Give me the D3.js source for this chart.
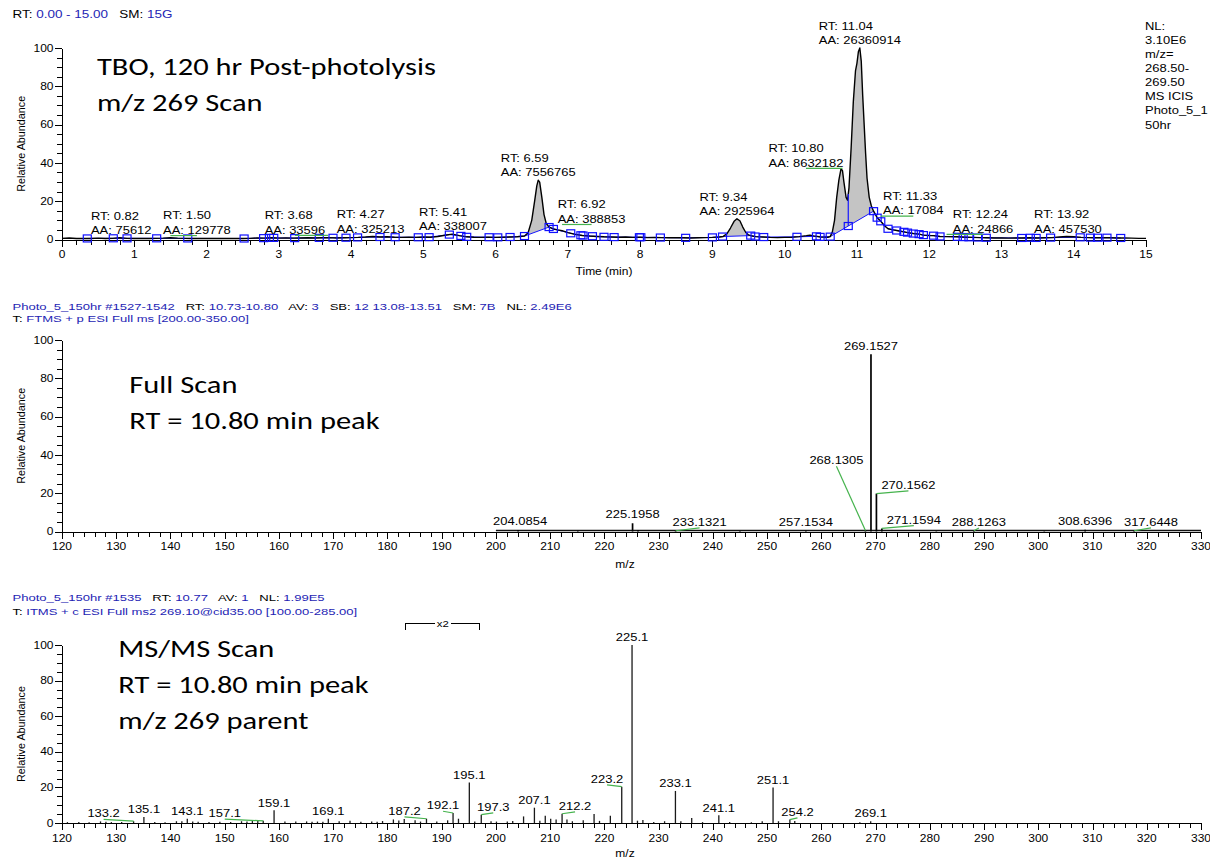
<!DOCTYPE html>
<html>
<head>
<meta charset="utf-8">
<script src="https://cdn.jsdelivr.net/npm/d3@7"></script>
<style>
  html, body { margin: 0; padding: 0; background: #fff; }
  svg { display: block; }
</style>
</head>
<body>
<svg id="chart" width="1210" height="858"></svg>
<script>
// ---------------- Chromatogram, m/z 268.50-269.50 (time in min, relative abundance %) ----------------
const chromTrace = [
  [0.00,0.6],[0.10,0.8],[0.20,0.5],[0.30,0.6],[0.40,0.5],[0.50,0.7],[0.60,0.5],[0.70,0.6],[0.80,0.9],[0.90,0.6],
  [1.00,0.5],[1.10,0.6],[1.20,0.5],[1.30,0.6],[1.40,0.7],[1.50,0.9],[1.60,0.7],[1.70,0.6],[1.80,0.5],[1.90,0.6],
  [2.00,0.5],[2.10,0.6],[2.20,0.5],[2.30,0.5],[2.40,0.6],[2.50,0.5],[2.60,0.6],[2.70,0.8],[2.80,0.7],[2.90,0.9],
  [3.00,0.7],[3.10,0.8],[3.20,0.7],[3.30,0.8],[3.40,0.9],[3.50,0.8],[3.60,0.9],[3.70,1.0],[3.80,0.8],[3.90,0.9],
  [4.00,1.0],[4.10,1.1],[4.20,1.3],[4.30,1.6],[4.40,1.3],[4.50,1.4],[4.60,1.2],[4.70,1.1],[4.80,1.2],[4.90,1.1],
  [5.00,1.3],[5.10,1.2],[5.20,1.6],[5.30,2.2],[5.40,2.8],[5.50,2.0],[5.60,1.4],[5.70,1.2],[5.80,1.1],[5.90,1.2],
  [6.00,1.1],[6.10,1.2],[6.20,1.3],[6.30,1.4],[6.40,1.8],[6.45,3.5],[6.50,10],[6.54,20],[6.57,28],[6.59,31],
  [6.61,30],[6.64,22],[6.67,13],[6.70,8.5],[6.74,6.5],[6.80,5.5],[6.86,5.0],[6.92,4.6],[7.00,3.6],[7.10,2.7],
  [7.20,2.1],[7.30,1.8],[7.40,1.6],[7.50,1.4],[7.60,1.3],[7.70,1.2],[7.80,1.3],[7.90,1.1],[8.00,1.2],[8.10,1.0],
  [8.20,1.1],[8.30,1.0],[8.40,0.9],[8.50,1.0],[8.60,0.9],[8.70,0.8],[8.80,0.9],[8.90,1.0],[9.00,1.1],[9.10,1.3],
  [9.15,1.6],[9.20,3.0],[9.25,6.0],[9.30,9.5],[9.34,10.8],[9.38,9.8],[9.42,6.5],[9.46,3.8],[9.50,2.4],[9.55,1.8],
  [9.60,1.5],[9.70,1.3],[9.80,1.1],[9.90,1.0],[10.00,1.1],[10.10,1.2],[10.20,1.5],[10.30,2.0],[10.35,2.3],[10.40,1.9],
  [10.50,1.3],[10.60,1.2],[10.63,1.5],[10.66,4],[10.69,10],[10.72,22],[10.75,31],[10.78,37],[10.80,36],[10.82,30],
  [10.85,22],[10.87,20.5],[10.89,27],[10.92,48],[10.95,72],[10.98,88],[11.00,92],[11.02,98],[11.04,100],[11.06,93],
  [11.08,75],[11.10,60],[11.12,45],[11.14,32],[11.17,22],[11.20,17.5],[11.23,14.8],[11.28,11.4],[11.33,9.5],[11.38,7.2],
  [11.43,5.6],[11.50,5.0],[11.55,4.7],[11.65,4.0],[11.70,3.6],[11.78,3.1],[11.86,2.8],[11.92,2.3],[12.00,2.1],[12.06,2.0],
  [12.15,1.6],[12.25,1.5],[12.39,1.4],[12.50,1.2],[12.60,1.1],[12.70,1.0],[12.80,0.9],[12.90,0.8],[13.00,0.8],[13.10,0.7],
  [13.20,0.8],[13.30,0.8],[13.40,0.9],[13.50,0.8],[13.60,0.9],[13.70,1.0],[13.80,1.3],[13.90,1.6],[14.00,1.4],[14.10,1.1],
  [14.20,1.0],[14.30,0.9],[14.40,1.0],[14.50,0.9],[14.60,0.8],[14.70,0.8],[14.80,0.7],[14.90,0.6],[15.00,0.6]
];

// integrated peaks: retention time and area
const peakRT   = [0.82, 1.50, 3.68, 4.27, 5.41, 6.59, 6.92, 9.34, 10.80, 11.04, 11.33, 12.24, 13.92];
const peakArea = [75612, 129778, 33596, 325213, 338007, 7556765, 388853, 2925964, 8632182, 26360914, 17084, 24866, 457530];

// peak start / end markers found by the integrator
const boundaryTimes = [0.35,0.71,0.90,1.31,1.74,2.52,2.79,2.87,2.93,3.22,3.56,3.75,3.93,4.09,4.40,4.61,4.93,5.08,
  5.36,5.52,5.60,5.91,6.03,6.20,6.40,6.74,6.80,7.04,7.18,7.21,7.34,7.50,7.64,7.99,8.01,8.28,8.63,9.00,9.14,9.53,
  9.59,9.71,10.17,10.44,10.49,10.63,10.88,11.23,11.28,11.33,11.43,11.55,11.65,11.70,11.78,11.86,11.92,12.06,12.15,
  12.39,12.47,12.55,12.67,12.79,13.28,13.40,13.48,13.68,14.09,14.23,14.33,14.46,14.65];
const dropTimes = [10.88];                       // valley split between 10.80 and 11.04
const shadedRanges = [[6.40, 6.74], [9.14, 9.53], [10.63, 11.23]];

const chromInfo = ["NL:", "3.10E6", "m/z=", "268.50-", "269.50", "MS  ICIS", "Photo_5_1", "50hr"];

// ---------------- Full scan spectrum, RT 10.73-10.80 ----------------
const fullMz    = [204.0854, 215.1, 225.1958, 226.199, 233.1321, 245.0, 257.1534, 268.1305, 269.1527, 270.1562, 271.1594, 281.2, 288.1263, 301.1, 308.6396, 317.6448];
const fullAbund = [0.8,      0.3,   4.3,      0.7,     0.4,      0.2,   0.4,      0.5,      92.5,     19.8,     1.6,      0.2,   0.4,      0.2,   0.9,      0.4];
const fullLabels = ["204.0854","225.1958","233.1321","257.1534","268.1305","269.1527","270.1562","271.1594","288.1263","308.6396","317.6448"];
const fullScanRange = [200, 350];

// ---------------- MS2 spectrum of m/z 269.10 ----------------
const ms2Mz = [121.0,123.1,125.0,127.1,128.1,129.1,131.0,133.2,135.1,137.1,139.0,141.1,142.1,143.1,144.1,145.1,147.1,149.1,
  151.1,153.1,154.1,155.1,156.1,157.1,159.1,161.1,163.1,165.1,166.1,167.1,168.1,169.1,171.1,173.1,175.1,177.1,178.1,179.1,
  181.1,182.1,183.1,185.1,186.1,187.2,189.1,191.1,192.1,193.1,195.1,196.1,197.3,199.1,200.1,202.1,203.1,205.1,207.1,208.1,
  209.1,210.1,211.1,212.2,213.1,214.1,216.1,218.1,219.1,221.1,223.2,225.1,226.1,227.1,229.1,231.1,233.1,234.1,236.1,238.1,
  241.1,243.1,247.1,249.1,251.1,252.1,254.2,255.1,267.1,269.1];
const ms2Abund = [0.5,0.6,0.4,0.9,0.7,0.5,0.6,1.0,3.4,0.6,0.4,1.0,1.0,2.4,0.9,0.7,0.6,0.7,
  0.6,1.0,0.8,1.1,1.1,1.2,7.1,0.9,0.8,0.9,0.7,0.8,0.7,2.4,1.0,1.2,0.7,0.8,0.7,1.1,
  2.0,1.4,2.2,1.6,0.8,2.4,0.9,1.5,5.6,2.4,22.8,0.9,4.7,1.0,0.8,0.9,1.1,3.7,8.6,1.2,
  4.1,2.4,2.0,5.2,1.9,1.0,1.6,5.0,1.2,4.1,20.4,100,1.3,1.7,0.6,1.0,18.0,1.0,2.8,0.5,
  4.3,0.5,0.4,1.0,20.0,1.0,1.9,1.1,0.4,1.0];
const ms2Labels = ["133.2","135.1","143.1","157.1","159.1","169.1","187.2","192.1","195.1","197.3","207.1","212.2",
  "223.2","225.1","233.1","241.1","251.1","254.2","269.1"];
const ms2Magnified = [183.4, 197.0];

// ---------------- Header lines: [text, isValue] ----------------
const hdrChrom = [["RT: ",0],["0.00 - 15.00",1],["   SM: ",0],["15G",1]];
const hdrFull1 = [["Photo_5_150hr #1527-1542",1],["   RT: ",0],["10.73-10.80",1],["   AV: ",0],["3",1],
  ["   SB: ",0],["12 13.08-13.51",1],["   SM: ",0],["7B",1],["   NL: ",0],["2.49E6",1]];
const hdrFull2 = [["T: ",0],["FTMS + p ESI Full ms [200.00-350.00]",1]];
const hdrMs2a = [["Photo_5_150hr #1535",1],["   RT: ",0],["10.77",1],["   AV: ",0],["1",1],["   NL: ",0],["1.99E5",1]];
const hdrMs2b = [["T: ",0],["ITMS + c ESI Full ms2 269.10@cid35.00 [100.00-285.00]",1]];

const titleChrom = ["TBO, 120 hr Post-photolysis", "m/z 269 Scan"];
const titleFull  = ["Full Scan", "RT = 10.80 min peak"];
const titleMs2   = ["MS/MS Scan", "RT = 10.80 min peak", "m/z 269 parent"];

// ---------------- Label placement (pixel nudges for crowded annotations) ----------------
const chromLabelNudge = { "1.50": [26.5, 0], "3.68": [-33, 0], "6.92": [29.5, -4], "10.80": [-36.5, 0], "11.33": [32.5, -3], "12.24": [36.5, 0] };
const fullLabelNudge  = { "204.0854": [2, 0], "233.1321": [24, 0], "268.1305": [-29, -61.5], "270.1562": [32, 0], "271.1594": [32, 0], "288.1263": [5, 0], "317.6448": [17, 0] };
const ms2LabelNudge   = { "133.2": [-30, 0], "157.1": [-38.5, 0], "187.2": [-22, 0], "192.1": [-10, 0], "197.3": [12, 0], "212.2": [13, 0], "223.2": [-14.7, 0], "254.2": [7.6, 0] };

// =====================================================================
const svg = d3.select("#chart");
const FONT = '"Liberation Sans", Arial, Helvetica, sans-serif';
const TITLE_FONT = 'Carlito, Calibri, Lato, sans-serif';
const VALUE_BLUE = "#2424b4";
const LEADER = "#45b34d";
const WIDE = 1.26;      // the instrument software renders its text broad

function txt(g, x, y, s, o = {}) {
  return g.append("text")
    .attr("transform", `translate(${x},${y}) scale(${o.sx ?? WIDE},1)`)
    .attr("font-family", o.family ?? FONT)
    .attr("font-size", o.size ?? 10.3)
    .attr("text-anchor", o.anchor ?? "start")
    .attr("fill", o.fill ?? "#000")
    .text(s);
}

function headerLine(x, y, segs, size = 9.6, sx = 1.36) {
  const t = svg.append("text")
    .attr("transform", `translate(${x},${y}) scale(${sx},1)`)
    .attr("font-family", FONT).attr("font-size", size)
    .style("white-space", "pre");
  segs.forEach(([s, v]) => t.append("tspan").attr("fill", v ? VALUE_BLUE : "#000").text(s));
}

function titleBlock(x, y0, lines) {
  lines.forEach((s, i) => txt(svg, x, y0 + i * 36, s, { family: TITLE_FONT, size: 24, sx: 1.27 }));
}

function frame(p) {
  const g = svg.append("g").attr("shape-rendering", "crispEdges");
  const x0 = p.x.range()[0];
  const yb = p.y(0);
  g.append("g").attr("transform", `translate(0,${yb})`)
    .call(d3.axisBottom(p.x).tickValues(p.xMinor).tickSize(5).tickFormat(""))
    .call(a => a.select(".domain").remove());
  g.append("g").attr("transform", `translate(0,${yb})`)
    .call(d3.axisBottom(p.x).tickValues(p.xMajor).tickSize(7).tickSizeOuter(0).tickFormat(""));
  g.append("g").attr("transform", `translate(${x0},0)`)
    .call(d3.axisLeft(p.y).tickValues(d3.range(0, 101, 5)).tickSize(5).tickFormat(""))
    .call(a => a.select(".domain").remove());
  g.append("g").attr("transform", `translate(${x0},0)`)
    .call(d3.axisLeft(p.y).tickValues(d3.range(0, 101, 20)).tickSize(7).tickSizeOuter(0).tickFormat(""));
  g.selectAll(".domain, .tick line").attr("stroke", "#000").attr("stroke-width", 1);

  const lg = svg.append("g");
  p.xMajor.forEach(v => txt(lg, p.x(v), yb + 18.5, String(v), { anchor: "middle", size: 10, sx: 1.2 }));
  d3.range(0, 101, 20).forEach(v => txt(lg, x0 - 8.5, p.y(v) + 3.6, String(v), { anchor: "end", size: 10, sx: 1.2 }));
  txt(lg, p.xTitleX, yb + p.xTitleDy, p.xTitle, { anchor: "middle", size: 10, sx: 1.2 });
  lg.append("text")
    .attr("transform", `translate(25,${(p.y(0) + p.y(100)) / 2}) rotate(-90)`)
    .attr("font-family", FONT).attr("font-size", 10.8).attr("text-anchor", "middle")
    .text("Relative Abundance");
}

// ---------------- Panel 1: chromatogram ----------------
const xT = d3.scaleLinear([0, 15], [62, 1146]);
const yT = d3.scaleLinear([0, 100], [239.5, 48]);

headerLine(12.5, 17.5, hdrChrom, 10.2, 1.32);
frame({ x: xT, y: yT, xMajor: d3.range(0, 16), xMinor: d3.range(0, 75).map(i => i * 0.2),
        xTitle: "Time (min)", xTitleX: (xT(0) + xT(15)) / 2, xTitleDy: 35.5 });

const traceT = chromTrace.map(d => d[0]);
function traceAt(t) {
  const i = Math.max(0, Math.min(traceT.length - 2, d3.bisectRight(traceT, t) - 1));
  const [t0, a0] = chromTrace[i], [t1, a1] = chromTrace[i + 1];
  return a0 + (a1 - a0) * (t - t0) / (t1 - t0);
}

// baseline markers: on the trace, except split points which sit on the drawn baseline
const marks = boundaryTimes.map(t => ({ t, a: dropTimes.includes(t) ? null : traceAt(t) }));
marks.forEach((m, i) => {
  if (m.a === null) {
    const p = marks[i - 1], n = marks[i + 1];
    m.a = p.a + (n.a - p.a) * (m.t - p.t) / (n.t - p.t);
  }
});

const chromG = svg.append("g");
const lineT = d3.line().x(d => xT(d[0])).y(d => yT(d[1]));

shadedRanges.forEach(([a, b]) => {
  const top = [[a, traceAt(a)], ...chromTrace.filter(d => d[0] > a && d[0] < b), [b, traceAt(b)]];
  const base = marks.filter(m => m.t >= a && m.t <= b).map(m => [m.t, m.a]).reverse();
  chromG.append("path").attr("d", lineT(top.concat(base)) + "Z")
    .attr("fill", "#c4c4c4").attr("stroke", "none");
});

chromG.append("path").attr("d", lineT(marks.map(m => [m.t, m.a])))
  .attr("fill", "none").attr("stroke", "#1515ff").attr("stroke-width", 1);

chromG.append("path").attr("d", lineT(chromTrace))
  .attr("fill", "none").attr("stroke", "#000").attr("stroke-width", 1.4).attr("stroke-linejoin", "round");

dropTimes.forEach(t => {
  const m = marks.find(d => d.t === t);
  chromG.append("line")
    .attr("x1", xT(t)).attr("x2", xT(t)).attr("y1", yT(m.a)).attr("y2", yT(traceAt(t)))
    .attr("stroke", "#1515ff").attr("stroke-width", 1.2);
});

chromG.selectAll("rect.mark").data(marks).join("rect")
  .attr("x", d => xT(d.t) - 4).attr("y", d => yT(d.a) - 3.5)
  .attr("width", 8).attr("height", 7)
  .attr("fill", "none").attr("stroke", "#1010ff").attr("stroke-width", 1.2);

// RT / area annotations
const chromLabG = svg.append("g");
peakRT.forEach((rt, i) => {
  const key = rt.toFixed(2);
  const [dx, dy] = chromLabelNudge[key] || [0, 0];
  const px = xT(rt), py = yT(traceAt(rt));
  const cx = px + dx;
  const yb = py - 4 + dy;
  const aa = txt(chromLabG, cx, yb, "AA: " + peakArea[i], { anchor: "middle" });
  const w = aa.node().getComputedTextLength() * WIDE;
  const left = cx - w / 2;
  aa.attr("text-anchor", "start").attr("transform", `translate(${left},${yb}) scale(${WIDE},1)`);
  txt(chromLabG, left, yb - 14.3, "RT: " + key);
  if (dx !== 0) {
    chromLabG.append("line").attr("x1", cx).attr("x2", px).attr("y1", yb + 1.8).attr("y2", yb + 1.8)
      .attr("stroke", LEADER).attr("stroke-width", 1.2);
  }
});

chromInfo.forEach((s, i) => txt(svg, 1145, 29.5 + i * 14.15, s));
titleBlock(97, 75, titleChrom);

// ---------------- spectrum drawing helper ----------------
function spectrum(p) {
  const g = svg.append("g");
  g.selectAll("line.stick").data(p.mz.map((m, i) => [m, p.ab[i]])).join("line")
    .attr("x1", d => p.x(d[0])).attr("x2", d => p.x(d[0]))
    .attr("y1", p.y(0)).attr("y2", d => p.y(d[1]))
    .attr("stroke", p.color).attr("stroke-width", p.width);
  const lg = svg.append("g");
  p.labels.forEach(s => {
    const m = +s;
    const a = p.ab[p.mz.findIndex(v => Math.abs(v - m) < 1e-6)];
    const [dx, dy] = p.nudge[s] || [0, 0];
    const px = p.x(m), top = p.y(a);
    const cx = px + dx, yb = top - p.gap + dy;
    txt(lg, cx, yb, s, { anchor: "middle" });
    if (Math.abs(dx) >= 4 || dy !== 0) {
      lg.append("line").attr("x1", cx).attr("y1", yb + 2).attr("x2", px).attr("y2", top)
        .attr("stroke", LEADER).attr("stroke-width", 1.2);
    }
  });
}

// ---------------- Panel 2: full scan ----------------
const xF = d3.scaleLinear([120, 330], [62, 1201]);
const yF = d3.scaleLinear([0, 100], [531.5, 340]);
headerLine(12.5, 309.5, hdrFull1);
headerLine(12.5, 322, hdrFull2);
frame({ x: xF, y: yF, xMajor: d3.range(120, 331, 10), xMinor: d3.range(120, 331, 2),
        xTitle: "m/z", xTitleX: 625, xTitleDy: 36 });
svg.append("line")
  .attr("x1", xF(Math.max(fullScanRange[0], 120))).attr("x2", xF(Math.min(fullScanRange[1], 330)))
  .attr("y1", yF(0) - 1).attr("y2", yF(0) - 1).attr("stroke", "#111").attr("stroke-width", 1.6);
spectrum({ x: xF, y: yF, mz: fullMz, ab: fullAbund, labels: fullLabels, nudge: fullLabelNudge,
           gap: 4.8, color: "#000", width: 1.7 });
titleBlock(129.3, 393.3, titleFull);

// ---------------- Panel 3: MS2 ----------------
const xM = d3.scaleLinear([120, 330], [62, 1201]);
const yM = d3.scaleLinear([0, 100], [823, 645]);
headerLine(12.5, 601, hdrMs2a);
headerLine(12.5, 614.5, hdrMs2b);
frame({ x: xM, y: yM, xMajor: d3.range(120, 331, 10), xMinor: d3.range(120, 331, 2),
        xTitle: "m/z", xTitleX: 625, xTitleDy: 34 });
spectrum({ x: xM, y: yM, mz: ms2Mz, ab: ms2Abund, labels: ms2Labels, nudge: ms2LabelNudge,
           gap: 3.8, color: "#1a1a1a", width: 1.3 });
titleBlock(118.3, 656.7, titleMs2);

// magnification bracket
{
  const g = svg.append("g").attr("shape-rendering", "crispEdges");
  const xa = xM(ms2Magnified[0]), xb = xM(ms2Magnified[1]), yTop = 623.5, mid = (xa + xb) / 2;
  g.append("path").attr("d", `M${xa},${yTop + 6}V${yTop}H${mid - 8}M${mid + 8},${yTop}H${xb}V${yTop + 6}`)
    .attr("fill", "none").attr("stroke", "#000").attr("stroke-width", 1);
  txt(svg, mid, yTop + 3.2, "x2", { anchor: "middle", size: 9.5, sx: 1.2 });
}
</script>
</body>
</html>
